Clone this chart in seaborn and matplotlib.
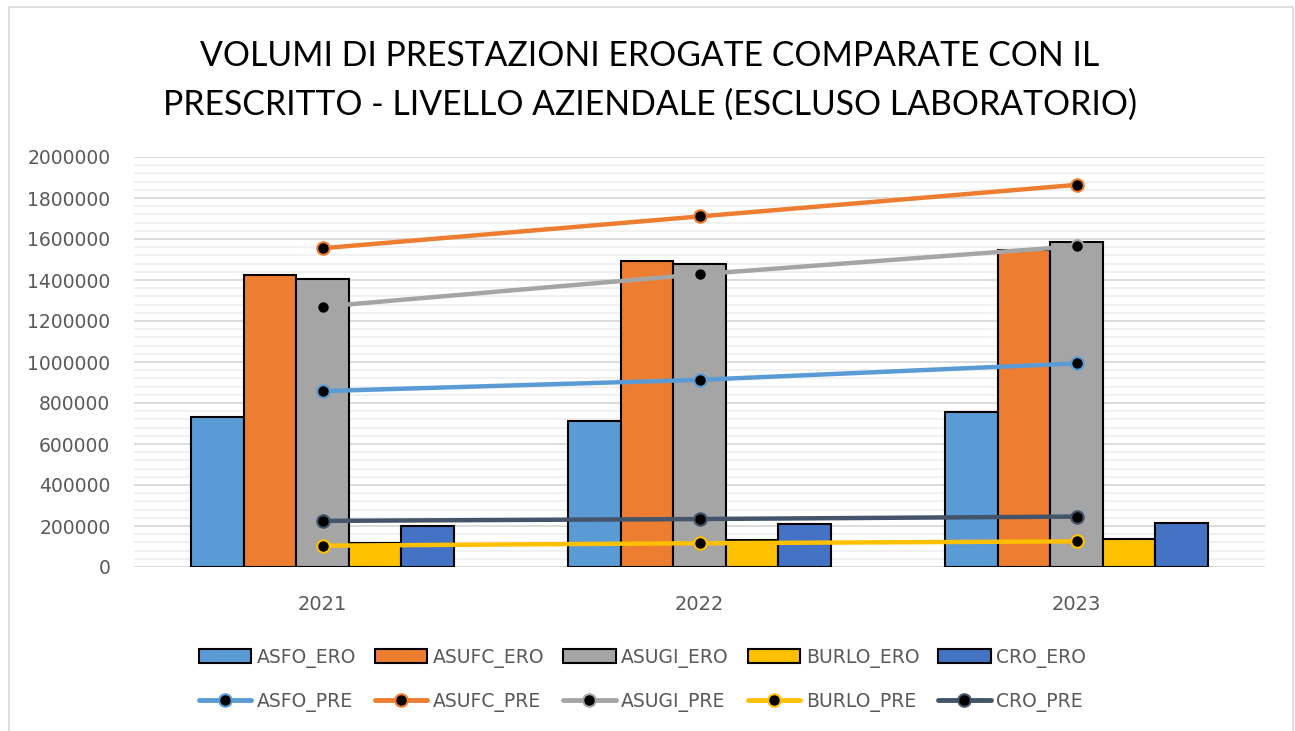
import matplotlib
matplotlib.use("Agg")
import matplotlib.pyplot as plt
from matplotlib.patches import Patch, Rectangle
from matplotlib.lines import Line2D
from matplotlib.ticker import MultipleLocator
import seaborn as sns
import pandas as pd

# ---------------- data ----------------
years = ["2021", "2022", "2023"]

ero_names = ["ASFO_ERO", "ASUFC_ERO", "ASUGI_ERO", "BURLO_ERO", "CRO_ERO"]
asfo_ero = [733000, 713000, 756000]
asufc_ero = [1426000, 1493000, 1545000]
asugi_ero = [1403000, 1479000, 1586000]
burlo_ero = [119000, 132000, 138000]
cro_ero = [202000, 211000, 216000]

pre_names = ["ASFO_PRE", "ASUFC_PRE", "ASUGI_PRE", "BURLO_PRE", "CRO_PRE"]
asfo_pre = [858000, 913000, 993000]
asufc_pre = [1555000, 1710000, 1864000]
asugi_pre = [1270000, 1428000, 1565000]
burlo_pre = [104000, 116000, 125000]
cro_pre = [225000, 234000, 246000]

title = ("VOLUMI DI PRESTAZIONI EROGATE COMPARATE CON IL\n"
         "PRESCRITTO - LIVELLO AZIENDALE (ESCLUSO LABORATORIO)")

# ---------------- styling ----------------
ero_colors = ["#5B9BD5", "#ED7D31", "#A5A5A5", "#FFC000", "#4472C4"]
pre_colors = ["#5B9BD5", "#ED7D31", "#A5A5A5", "#FFC000", "#44546A"]
text_col = "#595959"

ero_vals = [asfo_ero, asufc_ero, asugi_ero, burlo_ero, cro_ero]
pre_vals = [asfo_pre, asufc_pre, asugi_pre, burlo_pre, cro_pre]

ero_df = pd.DataFrame([
    {"year": y, "series": n, "value": v}
    for n, vals in zip(ero_names, ero_vals) for y, v in zip(years, vals)
])
pre_df = pd.DataFrame([
    {"year": y, "series": n, "value": v}
    for n, vals in zip(pre_names, pre_vals) for y, v in zip(years, vals)
])

sns.set_theme(style="white")
plt.rcParams["font.family"] = ["DejaVu Sans"]

fig = plt.figure(figsize=(12.95, 7.31), dpi=100)
ax = fig.add_axes([134 / 1295, 1 - 567 / 731, (1265 - 134) / 1295, (567 - 157) / 731])

sns.barplot(data=ero_df, x="year", y="value", hue="series", hue_order=ero_names,
            order=years, palette=ero_colors, width=0.695, saturation=1,
            edgecolor="black", linewidth=1.5, errorbar=None, legend=False, ax=ax)

sns.pointplot(data=pre_df, x="year", y="value", hue="series", hue_order=pre_names,
              order=years, palette=pre_colors, dodge=False, errorbar=None,
              markers="o", linestyles="-", legend=False, ax=ax,
              linewidth=3.2, markersize=9)

for line in ax.lines:
    c = line.get_color()
    line.set_markerfacecolor("black")
    line.set_markeredgecolor(c)
    line.set_markeredgewidth(1.5)
    line.set_zorder(3)

ax.set_xlim(-0.5, 2.5)
ax.set_ylim(0, 2000000)
ax.yaxis.set_major_locator(MultipleLocator(200000))
ax.yaxis.set_minor_locator(MultipleLocator(40000))
ax.set_axisbelow(True)
ax.grid(which="major", axis="y", color="#d9d9d9", linewidth=1.3)
ax.grid(which="minor", axis="y", color="#f0f0f0", linewidth=1.3)
ax.grid(axis="x", visible=False)
for s in ax.spines.values():
    s.set_visible(False)
ax.set_xlabel("")
ax.set_ylabel("")
ax.tick_params(axis="y", which="both", length=0, labelsize=13.5, labelcolor=text_col, pad=17)
ax.tick_params(axis="x", length=0, labelsize=14, labelcolor=text_col, pad=20)
ax.yaxis.set_major_formatter(matplotlib.ticker.FuncFormatter(lambda v, p: f"{int(v)}"))

fig.text(0.502, 0.890, title, ha="center", va="center", fontsize=24.3,
         family=["Lato", "DejaVu Sans"], color="black", linespacing=1.65)

handles, labels = [], []
for i in range(5):
    handles.append(Patch(facecolor=ero_colors[i], edgecolor="black", linewidth=1.5))
    labels.append(ero_names[i])
    handles.append(Line2D([0], [0], color=pre_colors[i], linewidth=3.5, marker="o",
                          markerfacecolor="black", markeredgecolor=pre_colors[i],
                          markersize=9, markeredgewidth=1.5))
    labels.append(pre_names[i])

leg = fig.legend(handles, labels, ncol=5, loc="center", bbox_to_anchor=(0.496, 0.07),
                 frameon=False, fontsize=13.5, handlelength=2.8, handleheight=0.8,
                 handletextpad=0.3, columnspacing=1.0, labelspacing=1.3)
for t in leg.get_texts():
    t.set_color(text_col)

fig.add_artist(Rectangle((9 / 1295, -0.05), (1293 - 9) / 1295, 1.05 - 7 / 731,
                         transform=fig.transFigure, fill=False, edgecolor="#d9d9d9",
                         linewidth=1.2))

fig.savefig("out.png", dpi=100)
